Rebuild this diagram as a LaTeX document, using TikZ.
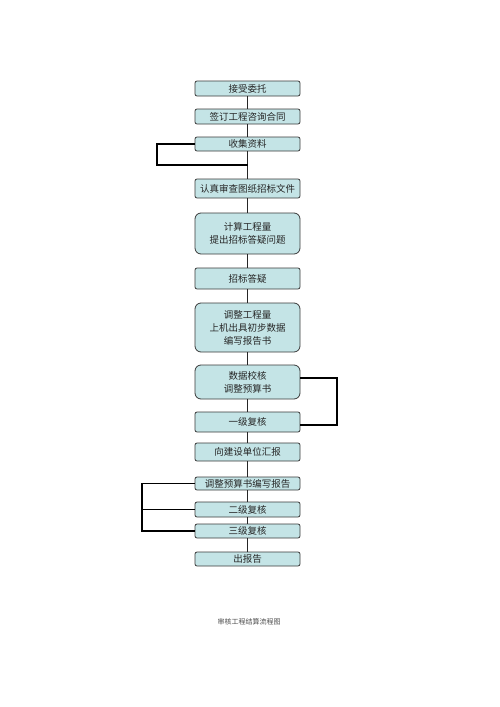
\documentclass[tikz,border=0pt]{standalone}
\usepackage{fontspec}
\setmainfont{Noto Sans CJK SC}
\usetikzlibrary{calc}
\definecolor{boxfill}{HTML}{C4E4E6}
\definecolor{boxline}{HTML}{3A3A3A}
\begin{document}
\begin{tikzpicture}[x=1pt,y=-1pt,
  stepbox/.style={draw=boxline,line width=0.8pt,fill=boxfill,rounded corners=2pt,
    minimum width=105pt,inner sep=0pt,align=center,font=\fontsize{9.5}{13}\selectfont,text=black!85},
  bigbox/.style={stepbox,rounded corners=6pt},
  link/.style={draw=black!85,line width=1.5pt},
  loop/.style={draw=black,line width=1.8pt}]
\useasboundingbox (0,0) rectangle (500,707);
\node[stepbox,minimum height=15pt] (b1) at (247.5,88.5) {接受委托};
\node[stepbox,minimum height=15pt] (b2) at (247.5,116.5) {签订工程咨询合同};
\node[stepbox,minimum height=14pt] (b3) at (247.5,144) {收集资料};
\node[stepbox,minimum height=19pt] (b4) at (247.5,188.5) {认真审查图纸招标文件};
\node[bigbox,minimum height=41pt] (b5) at (247.5,233.5) {计算工程量\\提出招标答疑问题};
\node[stepbox,minimum height=21pt] (b6) at (247.5,278.5) {招标答疑};
\node[bigbox,minimum height=49pt] (b7) at (247.5,327.5) {调整工程量\\上机出具初步数据\\编写报告书};
\node[bigbox,minimum height=34pt] (b8) at (247.5,382) {数据校核\\调整预算书};
\node[stepbox,minimum height=20pt] (b9) at (247.5,422) {一级复核};
\node[stepbox,minimum height=18pt] (b10) at (247.5,452) {向建设单位汇报};
\node[stepbox,minimum height=13pt] (b11) at (247.5,483.5) {调整预算书编写报告};
\node[stepbox,minimum height=15pt] (b12) at (247.5,509.5) {二级复核};
\node[stepbox,minimum height=14pt] (b13) at (247.5,531) {三级复核};
\node[stepbox,minimum height=14pt] (b14) at (247.5,559) {出报告};
\node[font=\fontsize{7}{8}\selectfont,text=black!70] (cap) at (249,622) {审核工程结算流程图};
% main connectors
\foreach \a/\b in {b1/b2,b2/b3,b3/b4,b4/b5,b5/b6,b6/b7,b7/b8,b8/b9,b9/b10,b10/b11,b11/b12,b12/b13,b13/b14}
  \draw[link] (\a.south) -- (\b.north);
% loops
\coordinate (j1) at (247.5,165);
\coordinate (j2) at (142,509.5);
\draw[loop] (b3.west) -| (157,165) -- (j1);
\draw[loop] (b8.east |- 0,378) -- (337,378) |- ($(b9.east)+(0,3)$);
\draw[loop] (b11.west) -- (142,483.5) |- (b13.west);
\draw[loop] (j2) -- (b12.west);
\end{tikzpicture}
\end{document}
